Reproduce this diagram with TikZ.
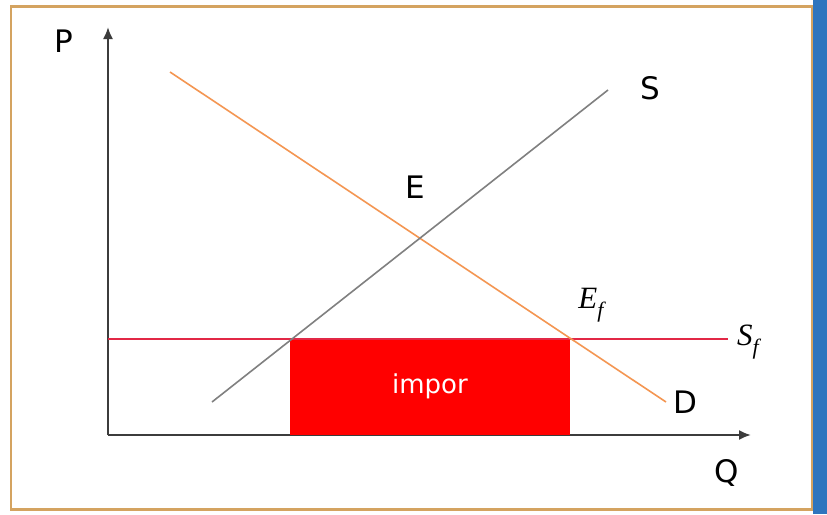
\documentclass[tikz,border=0pt]{standalone}
\usepackage{fontspec}
\setmainfont{DejaVu Sans}
\newfontfamily\mathlike{Liberation Serif}
\usetikzlibrary{arrows.meta}
\definecolor{frametan}{RGB}{212,163,96}
\definecolor{barblue}{RGB}{46,117,190}
\definecolor{demandc}{RGB}{244,150,82}
\definecolor{supplyc}{RGB}{128,128,128}
\definecolor{sfc}{RGB}{226,40,70}
\definecolor{axisc}{RGB}{60,60,60}
\newcommand{\sublbl}[2]{{\mathlike\itshape #1\raisebox{-0.28em}{\fontsize{22}{22}\selectfont #2}}}
\tikzset{
  lbl/.style={font=\fontsize{31}{31}\selectfont, inner sep=0pt},
  mlbl/.style={font=\fontsize{31}{31}\selectfont, inner sep=0pt},
  axisline/.style={draw=axisc, line width=2pt, -{Latex[length=12pt,width=10pt]}},
}
\begin{document}
\begin{tikzpicture}[x=1pt,y=-1pt]
\useasboundingbox (0,0) rectangle (827,514);
\fill[white] (0,0) rectangle (827,514);
\fill[barblue] (813,0) rectangle (827,514);
\draw[frametan, line width=2.5pt] (11,6.5) rectangle (812,509.5);
% axes
\coordinate (O) at (108,435);
\coordinate (ytop) at (108,27);
\coordinate (xend) at (751,435);
\draw[axisline] (O) -- (ytop);
\draw[axisline] (O) -- (xend);
\node[lbl] (P) at (64,41) {P};
\node[lbl] (Q) at (727,473) {Q};
% import rectangle
\fill[red] (290,339) rectangle (570,435);
\node[font=\fontsize{26}{26}\selectfont, text=white, inner sep=0pt] (imp) at (430,386) {impor};
% Sf line
\coordinate (sfl) at (108,339);
\coordinate (sfr) at (728,339);
\draw[sfc, line width=1.2pt] (sfl) -- (sfr);
% demand
\coordinate (d1) at (170,72);
\coordinate (d2) at (666,402);
\draw[demandc, line width=1.6pt] (d1) -- (d2);
% supply
\coordinate (s1) at (212,402);
\coordinate (s2) at (608,90);
\draw[supplyc, line width=1.6pt] (s1) -- (s2);
% labels
\node[lbl] (S) at (650,88) {S};
\node[lbl] (E) at (415,187) {E};
\node[lbl] (D) at (685,402) {D};
\node[mlbl] (Ef) at (591,305) {\sublbl{E}{f}};
\node[mlbl] (Sf) at (748,342) {\sublbl{S}{f}};
\end{tikzpicture}
\end{document}
